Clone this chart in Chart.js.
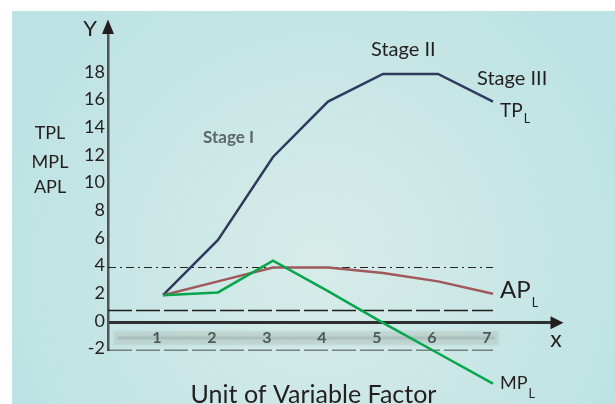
<!DOCTYPE html>
<html><head><meta charset="utf-8">
<script src="https://cdn.jsdelivr.net/npm/chart.js@4"></script>
<style>html,body{margin:0;padding:0;background:#fff}canvas{display:block}</style>
</head><body>
<canvas id="c" width="615" height="404"></canvas>
<script>
// ---- data ----
const units = [1, 2, 3, 4, 5, 6, 7];
const tpValues = [2, 6, 12, 16, 18, 18, 16];
const apValues = [2, 3, 4, 4, 3.6, 3, 2.1];
const mpValues = [2, 2.2, 4.5, 2.3, 0, -2.2, -4.4];
const yTickValues = [-2, 0, 2, 4, 6, 8, 10, 12, 14, 16, 18];
const dashDotLevel = 4;
const dashedLevels = [0.9, -2];
const refSpan = [0, 7];

const FONT = 'Lato, "Open Sans", sans-serif';
const TXT = '#231f20';

const pts = vals => units.map((u, i) => ({x: u, y: vals[i]}));
const ref = lvl => refSpan.map(x => ({x, y: lvl}));

const bgPlugin = {
  id: 'bg',
  beforeDraw(chart) {
    const ctx = chart.ctx, W = chart.width, H = chart.height;
    ctx.save();
    ctx.fillStyle = '#ffffff';
    ctx.fillRect(0, 0, W, H);
    const g = ctx.createRadialGradient(320, 260, 0, 320, 260, 340);
    g.addColorStop(0, '#d7ece9');
    g.addColorStop(1, '#bde2e3');
    ctx.fillStyle = g;
    ctx.fillRect(12, 11, W - 12, H - 11);
    // blurred band behind the x tick labels
    const xs = chart.scales.x, ys = chart.scales.y;
    const x1 = xs.getPixelForValue(0.1), x2 = xs.getPixelForValue(7.1);
    const yA = ys.getPixelForValue(-0.6), yB = ys.getPixelForValue(-1.6);
    ctx.filter = 'blur(1.2px)';
    ctx.fillStyle = 'rgba(180,198,194,0.6)';
    ctx.fillRect(x1, yA, x2 - x1, yB - yA);
    ctx.strokeStyle = 'rgba(110,130,125,0.5)';
    ctx.lineWidth = 1.5;
    ctx.beginPath();
    ctx.moveTo(x1 + 4, (yA + yB) / 2);
    ctx.lineTo(x2 - 4, (yA + yB) / 2);
    ctx.stroke();
    ctx.filter = 'none';
    ctx.restore();
  }
};

const blurPatch = {
  id: 'blurPatch',
  afterUpdate(chart) {
    const xs = chart.scales.x;
    if (xs && !xs._blurPatched) {
      const orig = xs.drawLabels;
      xs.drawLabels = function (area) {
        const c = this.ctx;
        c.save();
        c.filter = 'blur(0.7px)';
        orig.call(this, area);
        c.restore();
      };
      xs._blurPatched = true;
    }
  }
};

function txt(ctx, s, x, y, size, opts = {}) {
  ctx.font = (opts.weight || 'normal') + ' ' + size + 'px ' + FONT;
  ctx.fillStyle = opts.color || TXT;
  ctx.textAlign = opts.align || 'left';
  ctx.textBaseline = 'alphabetic';
  ctx.fillText(s, x, y);
  return ctx.measureText(s).width;
}
function sub(ctx, main, s, x, y, size, subSize, drop) {
  const w = txt(ctx, main, x, y, size);
  txt(ctx, s, x + w + 1, y + drop, subSize);
}

const decorPlugin = {
  id: 'decor',
  afterDraw(chart) {
    const ctx = chart.ctx;
    const {left, top, right} = chart.chartArea;
    const ys = chart.scales.y, xs = chart.scales.x;
    const y0 = ys.getPixelForValue(0);
    ctx.save();
    // arrowheads
    ctx.fillStyle = '#231f20';
    ctx.beginPath();
    ctx.moveTo(left, top - 13);
    ctx.lineTo(left - 6, top + 1.5);
    ctx.lineTo(left + 6, top + 1.5);
    ctx.closePath();
    ctx.fill();
    ctx.beginPath();
    ctx.moveTo(right + 10, y0);
    ctx.lineTo(right - 3, y0 - 6.5);
    ctx.lineTo(right - 3, y0 + 6.5);
    ctx.closePath();
    ctx.fill();

    // axis letters and side labels
    txt(ctx, 'Y', 90, 36, 22, {align: 'center'});
    txt(ctx, 'x', 556, 346.5, 23, {align: 'center'});
    txt(ctx, 'TPL', 50, 139, 18, {align: 'center'});
    txt(ctx, 'MPL', 50, 167.5, 18, {align: 'center'});
    txt(ctx, 'APL', 50, 192.5, 18, {align: 'center'});

    // stage labels
    txt(ctx, 'Stage II', 371, 56, 20);
    txt(ctx, 'Stage III', 477, 85, 20);
    ctx.filter = 'blur(0.7px)';
    txt(ctx, 'Stage I', 203, 143, 17, {weight: 'bold', color: '#5c6868'});
    ctx.filter = 'none';

    // series labels
    const lx = xs.getPixelForValue(units[units.length - 1]) + 7;
    sub(ctx, 'TP', 'L', lx, 116.5, 19, 12.5, 6.5);
    sub(ctx, 'AP', 'L', lx, 298, 24, 12.5, 9);
    sub(ctx, 'MP', 'L', lx, 389, 18, 12.5, 9);

    // axis title
    txt(ctx, 'Unit of Variable Factor', 313.5, 402.5, 25, {align: 'center'});
    ctx.restore();
  }
};

new Chart(document.getElementById('c'), {
  type: 'line',
  data: {
    datasets: [
      {label: 'MPL', data: pts(mpValues), borderColor: '#08a54c', borderWidth: 2.5, pointRadius: 0, clip: false, order: 1},
      {label: 'APL', data: pts(apValues), borderColor: '#a0585a', borderWidth: 2.5, pointRadius: 0, order: 2},
      {label: 'TPL', data: pts(tpValues), borderColor: '#2e3b5e', borderWidth: 2.5, pointRadius: 0, order: 3},
      {label: 'ref4', data: ref(dashDotLevel), borderColor: '#222', borderWidth: 1.1, borderDash: [8, 4, 2, 4], pointRadius: 0, order: 5},
      ...dashedLevels.map(l => ({label: 'ref' + l, data: ref(l), borderColor: '#1e1e1e', borderWidth: 1.5, borderDash: [24, 4], pointRadius: 0, order: 5}))
    ]
  },
  options: {
    responsive: false,
    animation: false,
    devicePixelRatio: 1,
    layout: {padding: {top: 32.5, right: 61.5, bottom: 53.5, left: 0}},
    plugins: {legend: {display: false}, tooltip: {enabled: false}, title: {display: false}},
    scales: {
      x: {
        type: 'linear',
        min: 0, max: 8.1,
        position: {y: 0},
        afterFit: s => { s.height = 0; },
        afterBuildTicks: s => { s.ticks = units.map(v => ({value: v})); },
        grid: {display: false, drawTicks: false},
        border: {display: true, color: '#2d2f31', width: 3},
        ticks: {
          padding: 5, labelOffset: -6, autoSkip: false, maxRotation: 0,
          color: 'rgba(55,68,68,0.85)',
          font: {family: FONT, size: 16, weight: 'bold'},
          callback: v => String(v)
        }
      },
      y: {
        type: 'linear',
        min: -2, max: 21,
        afterFit: s => { s.width = 108; },
        afterBuildTicks: s => { s.ticks = yTickValues.map(v => ({value: v})); },
        grid: {display: false, drawTicks: false},
        border: {display: true, color: '#4f5559', width: 2.5},
        ticks: {
          padding: 3, labelOffset: -2,
          color: TXT,
          font: {family: FONT, size: 18},
          callback: v => String(v)
        }
      }
    }
  },
  plugins: [bgPlugin, blurPatch, decorPlugin]
});
</script>
</body></html>
